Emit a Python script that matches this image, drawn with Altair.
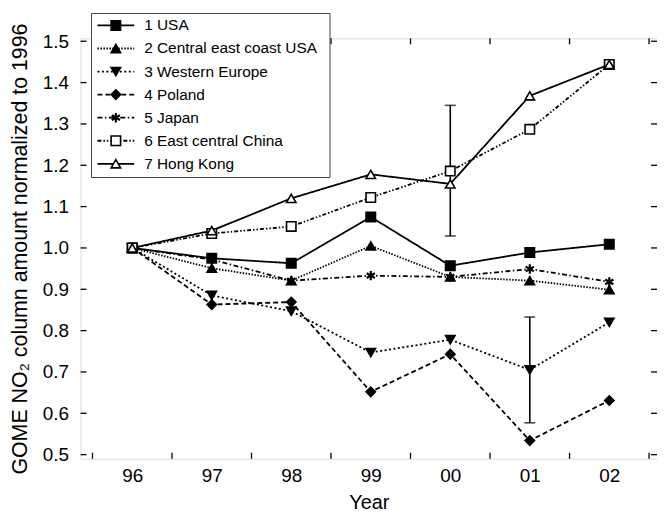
import altair as alt
import pandas as pd

# ---------------- data ----------------
years = [1996, 1997, 1998, 1999, 2000, 2001, 2002]
names = ["1 USA", "2 Central east coast USA", "3 Western Europe", "4 Poland",
         "5 Japan", "6 East central China", "7 Hong Kong"]
usa = [1.000, 0.975, 0.963, 1.075, 0.957, 0.989, 1.009]
cec = [1.000, 0.951, 0.921, 1.005, 0.930, 0.921, 0.899]
weu = [1.000, 0.885, 0.847, 0.747, 0.778, 0.705, 0.820]
pol = [1.000, 0.863, 0.869, 0.652, 0.743, 0.534, 0.631]
jap = [1.000, 0.972, 0.921, 0.933, 0.930, 0.949, 0.918]
chn = [1.000, 1.035, 1.052, 1.122, 1.186, 1.287, 1.444]
hkg = [1.000, 1.042, 1.120, 1.178, 1.155, 1.368, 1.444]
series_values = [usa, cec, weu, pol, jap, chn, hkg]

err_years = [2000, 2001]
err_low = [1.029, 0.577]
err_high = [1.345, 0.833]

y_tick_values = [0.5, 0.6, 0.7, 0.8, 0.9, 1.0, 1.1, 1.2, 1.3, 1.4, 1.5]
x_tick_bounds = [1995.5, 1996.5, 1997.5, 1998.5, 1999.5, 2000.5, 2001.5, 2002.5]

# ---------------- styles ----------------
FONT = "Liberation Sans"
W, H = 580, 423
ASTERISK = "M0,-1L0,1M-0.87,-0.5L0.87,0.5M-0.87,0.5L0.87,-0.5"
styles = [
    dict(dash=[1, 0], shape="square", fill="black", filled=True),
    dict(dash=[1.5, 1.5], shape="triangle-up", fill="black", filled=True),
    dict(dash=[2, 2.5], shape="triangle-down", fill="black", filled=True),
    dict(dash=[5, 3], shape="diamond", fill="black", filled=True),
    dict(dash=[5, 2.5, 1.5, 2.5], shape=ASTERISK, fill="none", filled=False),
    dict(dash=[4, 2, 1.5, 2, 1.5, 2], shape="square", fill="white", filled=True),
    dict(dash=[1, 0], shape="triangle-up", fill="white", filled=True),
]
MSIZE = 90
LW = 1.8

xs = alt.Scale(domain=[1995.35, 2002.6], nice=False, zero=False)
ys = alt.Scale(domain=[0.490, 1.507], nice=False, zero=False)
xaxis = alt.Axis(values=years, labelExpr="substring(toString(datum.value), 2, 4)",
                 ticks=False, domain=False, grid=False, title="Year",
                 labelFont=FONT, labelFontSize=19, labelColor="black", labelPadding=8,
                 titleFont=FONT, titleFontSize=20, titleFontWeight="normal",
                 titleColor="black", titlePadding=7)
yaxis = alt.Axis(values=y_tick_values, format=".1f", ticks=False, domain=False, grid=False,
                 title="GOME NO\u2082 column amount normalized to 1996",
                 labelFont=FONT, labelFontSize=19, labelColor="black", labelPadding=12,
                 titleFont=FONT, titleFontSize=21.5, titleFontWeight="normal",
                 titleColor="black", titlePadding=11)

def X(field):
    return alt.X(f"{field}:Q", scale=xs, axis=xaxis)

def Y(field):
    return alt.Y(f"{field}:Q", scale=ys, axis=yaxis)

layers = []

# tick marks (inward) on all four sides
ydf = pd.DataFrame({"v": y_tick_values})
xdf = pd.DataFrame({"b": x_tick_bounds})
layers.append(alt.Chart(ydf).mark_rule(color="black", strokeWidth=1.3).encode(
    y=Y("v"), x=alt.value(0), x2=alt.value(6)))
layers.append(alt.Chart(ydf).mark_rule(color="black", strokeWidth=1.3).encode(
    y=Y("v"), x=alt.value(W), x2=alt.value(W - 6)))
layers.append(alt.Chart(xdf).mark_rule(color="black", strokeWidth=1.3).encode(
    x=X("b"), y=alt.value(H), y2=alt.value(H - 6)))
layers.append(alt.Chart(xdf).mark_rule(color="black", strokeWidth=1.3).encode(
    x=X("b"), y=alt.value(0), y2=alt.value(6)))

# error bars
edf = pd.DataFrame({"year": err_years, "lo": err_low, "hi": err_high})
layers.append(alt.Chart(edf).mark_rule(color="black", strokeWidth=1.6).encode(
    x=X("year"), y=Y("lo"), y2="hi:Q"))
layers.append(alt.Chart(edf).mark_tick(color="black", orient="horizontal", size=11,
                                        thickness=1.6).encode(x=X("year"), y=Y("lo")))
layers.append(alt.Chart(edf).mark_tick(color="black", orient="horizontal", size=11,
                                        thickness=1.6).encode(x=X("year"), y=Y("hi")))

# series lines
frames = []
for name, vals in zip(names, series_values):
    frames.append(pd.DataFrame({"year": years, "value": vals, "series": name}))
for df, st in zip(frames, styles):
    layers.append(alt.Chart(df).mark_line(color="black", strokeWidth=LW,
                                          strokeDash=st["dash"]).encode(
        x=X("year"), y=Y("value"), order="year:Q"))


def marker_kw(st):
    kw = dict(shape=st["shape"], size=MSIZE, stroke="black", strokeWidth=1.6, opacity=1)
    if st["filled"]:
        kw.update(filled=True, fill=st["fill"])
    else:
        kw.update(filled=False, strokeWidth=2.2)
    return kw


# series markers
for df, st in zip(frames, styles):
    layers.append(alt.Chart(df).mark_point(**marker_kw(st)).encode(x=X("year"), y=Y("value")))

# legend box (drawn manually, over the frame)
LX0, LX1, LY0, LY1 = 11, 251, -25, 140
box = pd.DataFrame({"k": [0]})
layers.append(alt.Chart(box).mark_rect(fill="white", stroke="#444", strokeWidth=1).encode(
    x=alt.value(LX0), x2=alt.value(LX1), y=alt.value(LY0), y2=alt.value(LY1)))
ROW0, ROWSTEP = -13, 23.2
for i, (name, st) in enumerate(zip(names, styles)):
    ry = ROW0 + ROWSTEP * i
    row = pd.DataFrame({"label": [name]})
    layers.append(alt.Chart(row).mark_rule(color="black", strokeWidth=LW,
                                           strokeDash=st["dash"]).encode(
        x=alt.value(17), x2=alt.value(54), y=alt.value(ry)))
    layers.append(alt.Chart(row).mark_point(**marker_kw(st)).encode(
        x=alt.value(35.5), y=alt.value(ry)))
    layers.append(alt.Chart(row).mark_text(align="left", baseline="middle", font=FONT,
                                           fontSize=15.5, color="black").encode(
        x=alt.value(64), y=alt.value(ry), text="label:N"))

chart = alt.layer(*layers).properties(
    width=W, height=H,
    autosize=alt.AutoSizeParams(type="none"),
    padding={"left": 73, "top": 29, "right": 0, "bottom": 52},
).configure_view(stroke="black", strokeWidth=1.5).configure(background="white")

chart.save("out.html", embed_options={"renderer": "svg", "actions": False})
